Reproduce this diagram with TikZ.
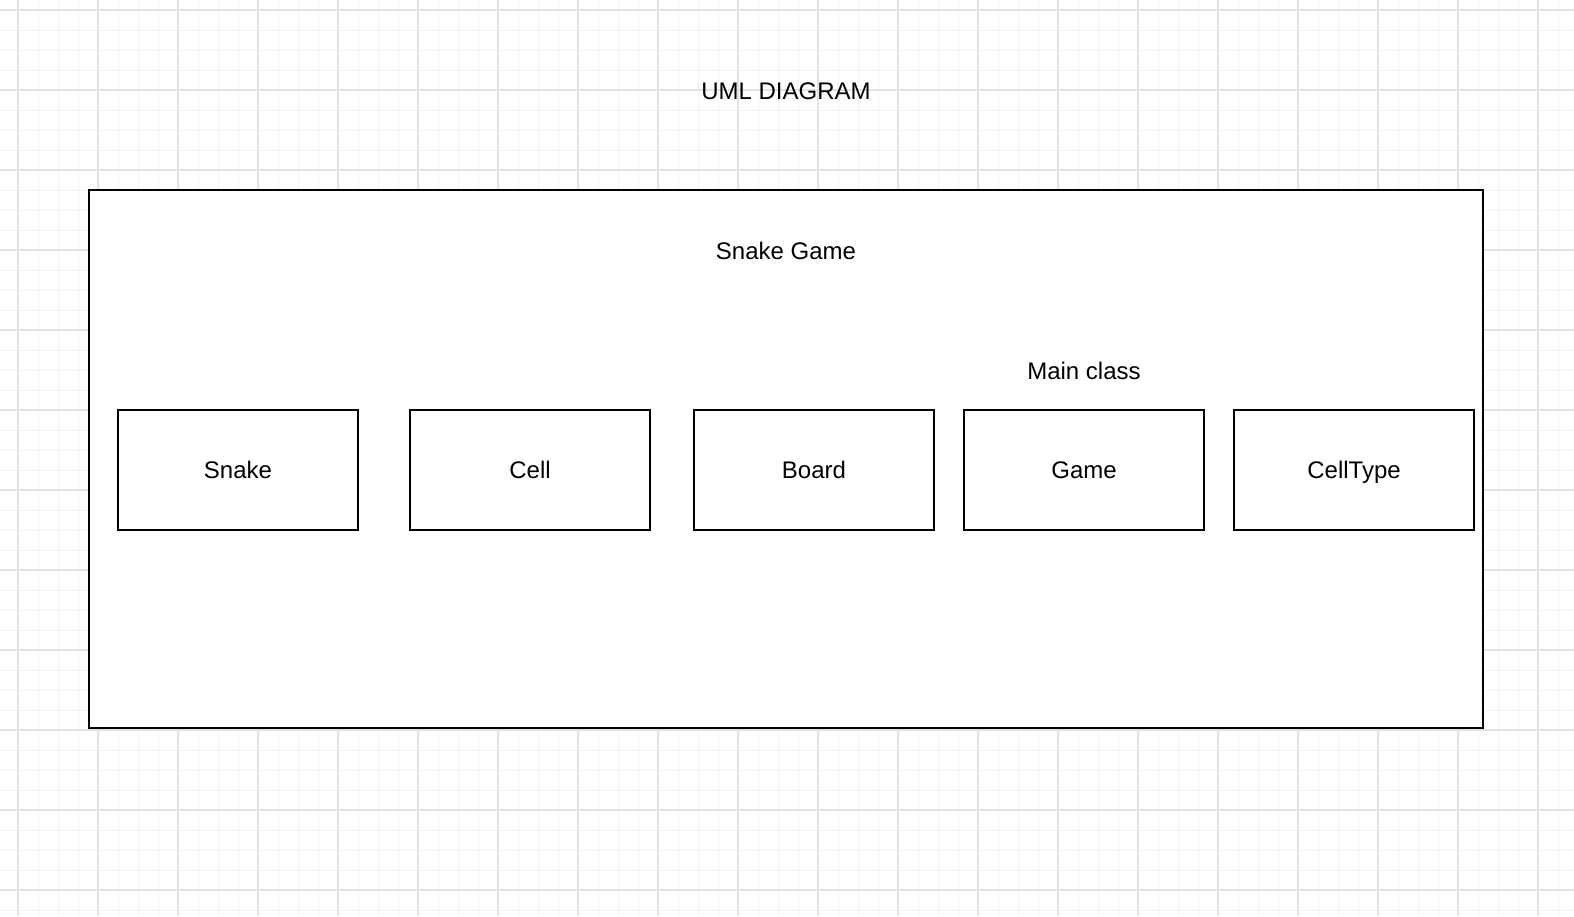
\documentclass[tikz,border=0pt]{standalone}
\usepackage{fontspec}
\setmainfont{Liberation Sans}
\usepackage{tikz}
\usetikzlibrary{positioning}

\tikzset{
  classbox/.style={draw=black,line width=1.6bp,fill=white,minimum width=240bp,minimum height=120bp,inner sep=0pt,text height=17bp,text depth=0bp,font=\fontsize{24bp}{28bp}\selectfont},
  caption/.style={inner sep=0pt,text height=17bp,text depth=0bp,font=\fontsize{24bp}{28bp}\selectfont}
}

\begin{document}
\begin{tikzpicture}[x=1bp,y=-1bp]
	\useasboundingbox (0,0) rectangle (1574,916);
	\fill[white] (0,0) rectangle (1574,916);
	% grid
	\foreach \gx in {-2,18,...,1578} {\draw[black!5,line width=1bp] (\gx,0) -- (\gx,916);}
	\foreach \gy in {-10,10,...,930} {\draw[black!5,line width=1bp] (0,\gy) -- (1574,\gy);}
	\foreach \gx in {18,98,...,1578} {\draw[black!11,line width=1.3bp] (\gx,0) -- (\gx,916);}
	\foreach \gy in {10,90,...,930} {\draw[black!11,line width=1.3bp] (0,\gy) -- (1574,\gy);}
	% package frame
	\node[draw=black,line width=1.6bp,fill=white,minimum width=1394bp,minimum height=538bp,inner sep=0pt] (frame) at (786,459) {};
	\node[caption] (title) at (786,91) {UML DIAGRAM};
	\node[caption] (pkg) at (786,251) {Snake Game};
	% classes
	\node[classbox] (snake) at (238,470) {Snake};
	\node[classbox] (cell) at (530,470) {Cell};
	\node[classbox] (board) at (814,470) {Board};
	\node[classbox] (game) at (1084,470) {Game};
	\node[classbox] (celltype) at (1354,470) {CellType};
	\node[caption,above=30bp of game] (mainlbl) {Main class};
\end{tikzpicture}
\end{document}
